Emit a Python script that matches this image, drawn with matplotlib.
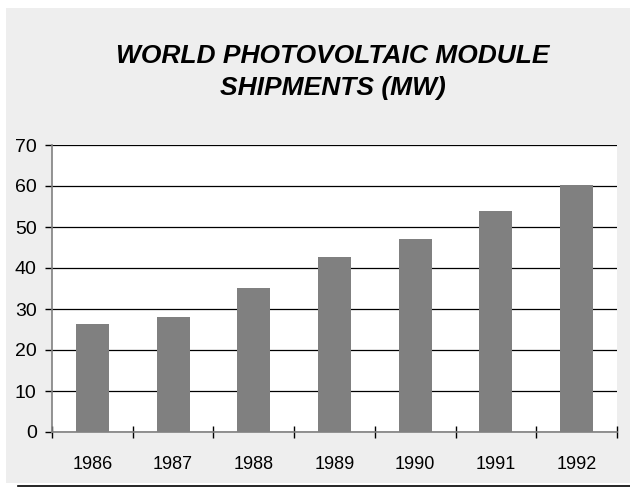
import matplotlib
matplotlib.use("Agg")
from matplotlib import pyplot as plt
from matplotlib.patches import Rectangle
from matplotlib.lines import Line2D
import numpy as np

years = ["1986", "1987", "1988", "1989", "1990", "1991", "1992"]
shipments = [26.3, 28.0, 35.1, 42.7, 47.1, 53.9, 60.2]
yticks = [0, 10, 20, 30, 40, 50, 60, 70]

plt.rcParams['font.family'] = ['Liberation Sans', 'DejaVu Sans']

W, H = 630, 487
fig = plt.figure(figsize=(W / 100, H / 100), dpi=100, facecolor='white')

# gray panel behind everything and the line under it
fig.patches.append(Rectangle((6 / W, 4 / H), 624 / W, 475 / H,
                             transform=fig.transFigure, facecolor='#eeeeee',
                             edgecolor='none', zorder=-10))
fig.lines.append(Line2D([18 / W, 1], [1.2 / H, 1.2 / H], transform=fig.transFigure,
                        color='black', lw=1.2))

ax = fig.add_axes([52 / W, (H - 432) / H, 565 / W, 287 / H])
ax.set_zorder(1)
ax.set_facecolor('white')

x = np.arange(len(years))
ax.bar(x, shipments, width=0.41, color='#808080', zorder=3)

ax.set_xlim(-0.5, len(years) - 0.5)
ax.set_ylim(0, 70)
ax.set_yticks(yticks)
ax.set_yticklabels([str(v) for v in yticks], fontsize=14)
ax.yaxis.grid(True, color='black', lw=0.9, zorder=1)
ax.set_axisbelow(True)

ax.set_xticks(x)
ax.set_xticklabels(years, fontsize=13)
ax.set_xticks(np.arange(-0.5, len(years)), minor=True)
ax.tick_params(axis='x', which='major', length=0, pad=17)
ax.tick_params(axis='x', which='minor', direction='inout', length=8, width=1, color='black')
ax.tick_params(axis='y', direction='out', length=5, width=1, color='black', pad=6)

for s in ['top', 'right']:
    ax.spines[s].set_visible(False)
for s in ['left', 'bottom']:
    ax.spines[s].set_color('#808080')
    ax.spines[s].set_linewidth(1.2)

fig.text(333 / W, 1 - 72 / H, "WORLD PHOTOVOLTAIC MODULE\nSHIPMENTS (MW)",
         ha='center', va='center', fontsize=19, fontweight='bold', fontstyle='italic',
         linespacing=1.4)

fig.savefig("out.png", dpi=100, facecolor='white')
